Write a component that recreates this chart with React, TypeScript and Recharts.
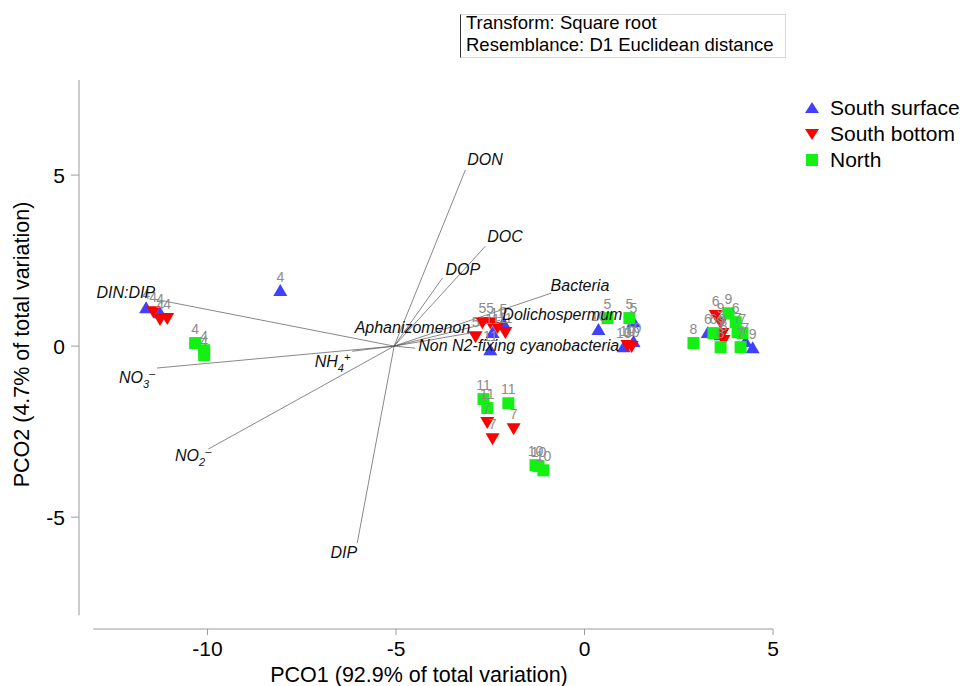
import React from "react";
import { ScatterChart, Scatter, XAxis, YAxis, ReferenceLine, ReferenceDot, Legend } from "recharts";

const FONT = '"Liberation Sans", Arial, sans-serif';

const xTicks = [-10, -5, 0, 5];
const yTicks = [-5, 0, 5];

type Pt = { x: number; y: number; m: number };

// PCO scores, label = sampling month
const southSurface: Pt[] = [
  { x: -11.63, y: 1.11, m: 4 },
  { x: -11.26, y: 0.96, m: 4 },
  { x: -8.07, y: 1.61, m: 4 },
  { x: -2.15, y: 0.67, m: 5 },
  { x: -2.44, y: 0.38, m: 11 },
  { x: -2.5, y: -0.12, m: 11 },
  { x: 0.37, y: 0.47, m: 10 },
  { x: 1.3, y: 0.7, m: 5 },
  { x: 1.3, y: 0.12, m: 10 },
  { x: 1.04, y: -0.03, m: 10 },
  { x: 3.27, y: 0.38, m: 6 },
  { x: 4.27, y: 0.12, m: 7 },
  { x: 4.46, y: -0.06, m: 9 },
  { x: 3.61, y: 0.32, m: 9 },
];

const southBottom: Pt[] = [
  { x: -11.44, y: 1.02, m: 4 },
  { x: -11.26, y: 0.79, m: 4 },
  { x: -11.07, y: 0.82, m: 4 },
  { x: -2.71, y: 0.7, m: 5 },
  { x: -2.5, y: 0.7, m: 5 },
  { x: -2.31, y: 0.56, m: 11 },
  { x: -2.1, y: 0.41, m: 11 },
  { x: -2.89, y: 0.29, m: 5 },
  { x: 1.14, y: 0.03, m: 10 },
  { x: 1.25, y: 0.0, m: 10 },
  { x: 3.48, y: 0.91, m: 6 },
  { x: 3.61, y: 0.7, m: 9 },
  { x: 3.66, y: 0.38, m: 9 },
  { x: 3.69, y: 0.18, m: 8 },
  { x: -2.58, y: -2.22, m: 7 },
  { x: -2.44, y: -2.69, m: 7 },
  { x: -1.88, y: -2.4, m: 7 },
];

const north: Pt[] = [
  { x: -10.33, y: 0.09, m: 4 },
  { x: -10.09, y: -0.12, m: 4 },
  { x: -10.09, y: -0.26, m: 4 },
  { x: 0.61, y: 0.82, m: 5 },
  { x: 1.19, y: 0.82, m: 5 },
  { x: 2.89, y: 0.09, m: 8 },
  { x: 3.82, y: 0.96, m: 9 },
  { x: 4.01, y: 0.7, m: 6 },
  { x: 3.42, y: 0.38, m: 6 },
  { x: 4.06, y: 0.41, m: 7 },
  { x: 4.19, y: 0.38, m: 7 },
  { x: 3.61, y: -0.03, m: 8 },
  { x: 4.14, y: -0.03, m: 7 },
  { x: -2.68, y: -1.55, m: 11 },
  { x: -2.58, y: -1.81, m: 11 },
  { x: -2.02, y: -1.67, m: 11 },
  { x: -1.3, y: -3.48, m: 10 },
  { x: -1.09, y: -3.63, m: 10 },
  { x: -1.22, y: -3.51, m: 10 },
];

// vector overlay (correlations), drawn from the circle centre
const vectorOrigin = { x: -5.05, y: 0 };
const vectors = [
  { name: "DON", x: -3.16, y: 5.15 },
  { name: "DOC", x: -2.63, y: 2.92 },
  { name: "DOP", x: -3.77, y: 1.99 },
  { name: "Bacteria", x: -0.88, y: 1.55 },
  { name: "Dolichospermum", x: -2.23, y: 0.76 },
  { name: "Aphanizomenon", x: -3.04, y: 0.38 },
  { name: "Non N2-fixing cyanobacteria", x: -4.49, y: -0.06 },
  { name: "NH4+", x: -6.16, y: -0.15 },
  { name: "DIN:DIP", x: -11.39, y: 1.37 },
  { name: "NO3-", x: -11.34, y: -0.64 },
  { name: "NO2-", x: -9.98, y: -3.01 },
  { name: "DIP", x: -6.03, y: -5.76 },
];

const vectorLabels = [
  { name: "DON", x: -3.11, y: 5.29, anchor: "start" },
  { name: "DOC", x: -2.58, y: 3.04, anchor: "start" },
  { name: "DOP", x: -3.69, y: 2.08, anchor: "start" },
  { name: "Bacteria", x: -0.9, y: 1.61, anchor: "start" },
  { name: "Dolichospermum", x: -2.18, y: 0.76, anchor: "start" },
  { name: "Aphanizomenon", x: -3.03, y: 0.38, anchor: "end" },
  { name: "Non N2-fixing cyanobacteria", x: -4.41, y: -0.15, anchor: "start" },
  { name: "NH4+", x: -6.21, y: -0.61, anchor: "end" },
  { name: "DIN:DIP", x: -11.39, y: 1.4, anchor: "end" },
  { name: "NO3-", x: -11.39, y: -1.08, anchor: "end" },
  { name: "NO2-", x: -9.9, y: -3.36, anchor: "end" },
  { name: "DIP", x: -6.03, y: -6.2, anchor: "end" },
];

const BLUE = "#4040ff";
const RED = "#ff0000";
const GREEN = "#14f014";
const AXIS = "#9a9a9a";

const triUp = (p: any) => (
  <polygon points={`${p.cx - 7},${p.cy + 5} ${p.cx + 7},${p.cy + 5} ${p.cx},${p.cy - 7}`} fill={BLUE} />
);
const triDown = (p: any) => (
  <polygon points={`${p.cx - 7},${p.cy - 5} ${p.cx + 7},${p.cy - 5} ${p.cx},${p.cy + 7}`} fill={RED} />
);
const square = (p: any) => <rect x={p.cx - 6} y={p.cy - 6} width={12} height={12} fill={GREEN} />;

const pointLabel = (p: any) => (
  <text x={p.cx} y={p.cy - 9} textAnchor="middle" fontSize={14} fill="#8c8c8c" fontFamily={FONT}>
    {p.payload.m}
  </text>
);

// chemistry names with sub/superscripts
function labelParts(name: string) {
  const m = name.match(/^(NH|NO)(\d)([+-])$/);
  if (!m) return <tspan>{name}</tspan>;
  return (
    <>
      <tspan>{m[1]}</tspan>
      <tspan dy={5} fontSize={11}>{m[2]}</tspan>
      <tspan dy={-11} fontSize={11}>{m[3] === "-" ? "\u2013" : m[3]}</tspan>
    </>
  );
}

const vectorLabel = (name: string, anchor: string) => (p: any) => (
  <text x={p.cx} y={p.cy} textAnchor={anchor} fontSize={16} fontStyle="italic" fill="#111" fontFamily={FONT}>
    {labelParts(name)}
  </text>
);

const legendItems = [
  { label: "South surface", icon: "up" },
  { label: "South bottom", icon: "down" },
  { label: "North", icon: "sq" },
];

function LegendContent() {
  return (
    <div style={{ fontFamily: FONT, fontSize: 21, color: "#000" }}>
      {legendItems.map((it) => (
        <div key={it.label} style={{ display: "flex", alignItems: "center", height: 26 }}>
          <svg width={18} height={18} style={{ marginRight: 9 }}>
            {it.icon === "up" && <polygon points="2,14 16,14 9,3" fill={BLUE} />}
            {it.icon === "down" && <polygon points="2,4 16,4 9,15" fill={RED} />}
            {it.icon === "sq" && <rect x={3} y={3} width={12} height={12} fill={GREEN} />}
          </svg>
          <span>{it.label}</span>
        </div>
      ))}
    </div>
  );
}

const X_DOMAIN: [number, number] = [-13.41, 5];
const Y_DOMAIN: [number, number] = [-8.27, 7.78];

export default function App() {
  return (
    <div style={{ position: "absolute", left: 0, top: 0, width: 974, height: 686, background: "#fff" }}>
      <div
        style={{
          position: "absolute",
          left: 460,
          top: 14,
          width: 326,
          height: 44,
          boxSizing: "border-box",
          borderTop: "1px solid #d8d8d8",
          borderRight: "1px solid #d8d8d8",
          borderBottom: "1px solid #d8d8d8",
          borderLeft: "1px solid #333",
          padding: "0 0 0 5px",
          fontFamily: FONT,
          fontSize: 18.5,
          lineHeight: "22px",
          color: "#000",
        }}
      >
        <div style={{ marginTop: -3 }}>Transform: Square root</div>
        <div>Resemblance: D1 Euclidean distance</div>
      </div>
      <ScatterChart width={974} height={686} margin={{ top: 80, right: 201, left: 19, bottom: 7 }}>
        <XAxis
          type="number"
          dataKey="x"
          domain={X_DOMAIN}
          ticks={xTicks}
          allowDataOverflow
          axisLine={false}
          tickLine={{ stroke: AXIS }}
          tickSize={6}
          tickMargin={6}
          height={50}
          tick={{ fontSize: 21, fill: "#000", fontFamily: FONT }}
          label={(props: any) => {
            const vb = props.viewBox;
            return (
              <text x={vb.x + vb.width / 2 - 7} y={vb.y + 53} textAnchor="middle" fontSize={21.5} fontFamily={FONT} fill="#000">
                PCO1 (92.9% of total variation)
              </text>
            );
          }}
        />
        <YAxis
          type="number"
          dataKey="y"
          domain={Y_DOMAIN}
          ticks={yTicks}
          allowDataOverflow
          axisLine={false}
          tickLine={{ stroke: AXIS }}
          tickSize={8}
          tickMargin={6}
          width={60}
          tick={{ fontSize: 21, fill: "#000", fontFamily: FONT }}
          label={(props: any) => {
            const vb = props.viewBox;
            const cx = vb.x + 3;
            const cy = vb.y + vb.height / 2 - 10;
            return (
              <text
                x={cx}
                y={cy}
                transform={`rotate(-90 ${cx} ${cy})`}
                textAnchor="middle"
                dominantBaseline="central"
                fontSize={21.5}
                fontFamily={FONT}
                fill="#000"
              >
                PCO2 (4.7% of total variation)
              </text>
            );
          }}
        />
        <ReferenceLine
          segment={[{ x: -13.03, y: Y_DOMAIN[0] }, { x: X_DOMAIN[1], y: Y_DOMAIN[0] }]}
          stroke={AXIS}
          ifOverflow="visible"
        />
        <ReferenceLine
          segment={[{ x: X_DOMAIN[0], y: -7.87 }, { x: X_DOMAIN[0], y: Y_DOMAIN[1] }]}
          stroke={AXIS}
          ifOverflow="visible"
        />
        {vectors.map((v) => (
          <ReferenceLine
            key={v.name}
            segment={[vectorOrigin, { x: v.x, y: v.y }]}
            stroke="#555"
            strokeWidth={0.7}
            ifOverflow="visible"
          />
        ))}
        <Scatter data={southSurface} shape={triUp} isAnimationActive={false} />
        <Scatter data={southBottom} shape={triDown} isAnimationActive={false} />
        <Scatter data={north} shape={square} isAnimationActive={false} />
        <Scatter data={southSurface} shape={pointLabel} isAnimationActive={false} />
        <Scatter data={southBottom} shape={pointLabel} isAnimationActive={false} />
        <Scatter data={north} shape={pointLabel} isAnimationActive={false} />
        {vectorLabels.map((l) => (
          <ReferenceDot
            key={l.name}
            x={l.x}
            y={l.y}
            r={0}
            ifOverflow="visible"
            shape={vectorLabel(l.name, l.anchor)}
          />
        ))}
        <Legend
          layout="horizontal"
          verticalAlign="middle"
          content={() => <LegendContent />}
          wrapperStyle={{ position: "absolute", left: 803, top: 95, width: 171 }}
        />
      </ScatterChart>
    </div>
  );
}
